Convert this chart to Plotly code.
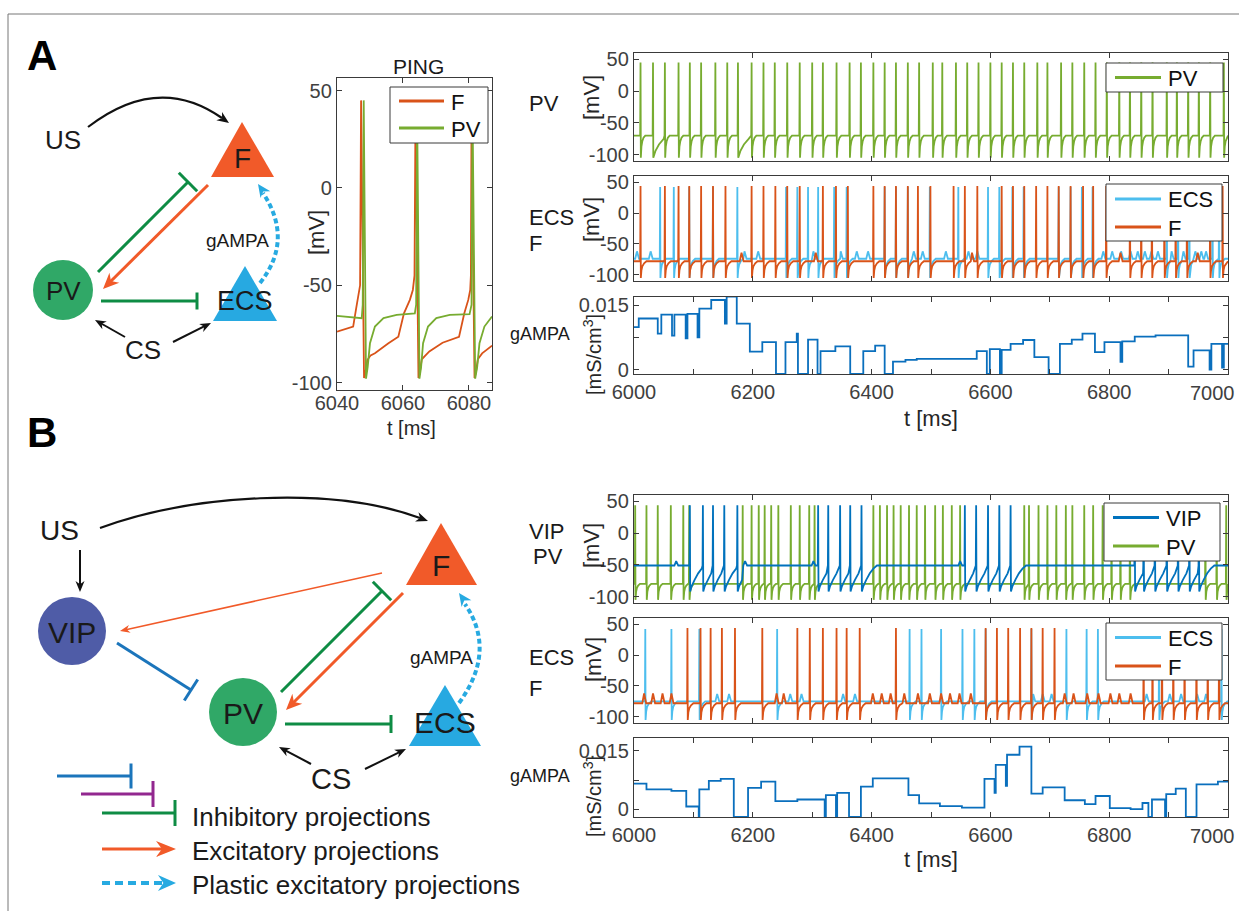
import plotly.graph_objects as go

W, H = 1239, 911
FONT = "Liberation Sans, Arial, sans-serif"

# ======================= DATA =======================
# --- PING inset (panel A): key points of the voltage traces ---
ping_t_f = [6040.0, 6044.9, 6045.8, 6046.5, 6047.0, 6047.3, 6047.8, 6048.2, 6048.6, 6049.2,
            6050.2, 6051.5, 6055.6, 6058.6, 6060.3, 6062.1, 6063.0, 6063.5, 6063.8, 6064.3,
            6064.7, 6065.1, 6065.7, 6068.0, 6072.0, 6077.0, 6078.6, 6079.8, 6080.4, 6080.6,
            6080.8, 6081.3, 6081.7, 6082.1, 6082.7, 6084.0, 6087.0]
ping_v_f = [-73.8, -71.2, -62.0, -55.0, -50.0, 45.0, -40.0, -97.6, -95.0, -88.4,
            -86.0, -84.9, -79.8, -76.4, -64.4, -57.5, -52.4, -45.0, 38.0, -40.0,
            -97.6, -95.0, -88.0, -84.0, -79.5, -76.5, -64.4, -57.5, -52.4, -45.0,
            38.0, -40.0, -97.6, -95.0, -88.0, -85.0, -81.0]
ping_t_pv = [6040.0, 6047.5, 6047.8, 6048.1, 6048.8, 6049.3, 6050.0, 6051.5, 6054.1, 6058.1,
             6063.6, 6064.0, 6064.3, 6065.0, 6065.5, 6066.1, 6067.6, 6070.1, 6074.2, 6080.2,
             6080.8, 6081.1, 6081.9, 6082.5, 6083.2, 6084.7, 6087.0]
ping_v_pv = [-65.7, -66.9, -60.0, 45.0, -98.0, -92.0, -79.8, -71.2, -66.9, -65.2,
             -64.4, -60.0, 40.0, -98.0, -92.0, -79.8, -71.2, -66.9, -65.2, -64.8,
             -60.0, 40.0, -98.0, -92.0, -79.8, -71.2, -66.0]

# --- Panel A: spike times [ms] ---
a_pv_spikes = [6011, 6032, 6052, 6075, 6094, 6113, 6137, 6157, 6175, 6198, 6218, 6237, 6258,
               6279, 6300, 6318, 6341, 6363, 6382, 6403, 6422, 6441, 6461, 6480, 6503, 6519,
               6542, 6561, 6580, 6600, 6619, 6638, 6657, 6679, 6696, 6719, 6738, 6758, 6777,
               6796, 6817, 6835, 6854, 6873, 6897, 6914, 6933, 6951, 6970, 6993]
a_pv_slow = [6032, 6175]
a_f_spikes = [6011, 6052, 6075, 6093, 6113, 6133, 6154, 6198, 6218, 6238, 6258, 6279, 6318,
              6340, 6360, 6403, 6422, 6441, 6461, 6478, 6499, 6538, 6557, 6578, 6619, 6638,
              6657, 6677, 6696, 6715, 6735, 6756, 6773, 6795, 6835, 6854, 6872, 6893, 6912,
              6931, 6970, 6991]
a_f_bumps = [6181, 6306, 6569, 6819, 6949]
a_ecs_spikes = [6044, 6067, 6093, 6133, 6174, 6256, 6275, 6293, 6310, 6337, 6358, 6422, 6441,
                6461, 6498, 6546, 6596, 6615, 6637, 6656, 6715, 6735, 6754, 6772, 6897, 6916,
                6935, 6974, 6985]
a_ecs_bumps = [6005, 6028, 6186, 6209, 6302, 6348, 6375, 6394, 6471, 6486, 6525, 6563, 6578,
               6790, 6805, 6820, 6836, 6848, 6860, 6871, 6882, 6905, 6925, 6945, 6955, 6963]

# --- Panel A: gAMPA step trace ---
ga_a_t = [6000, 6008, 6040, 6046, 6064, 6068, 6087, 6090, 6107, 6110,
          6130, 6153, 6156, 6173, 6195, 6216, 6239, 6255, 6274, 6276,
          6293, 6309, 6314, 6339, 6364, 6386, 6406, 6422, 6436, 6457,
          6476, 6577, 6594, 6599, 6616, 6619, 6634, 6655, 6674, 6698,
          6717, 6737, 6755, 6776, 6792, 6819, 6822, 6843, 6878, 6933,
          6942, 6969, 6972, 6990, 6993]
ga_a_v = [0.0099, 0.0119, 0.0084, 0.0128, 0.0079, 0.0128, 0.0073, 0.0130, 0.0075, 0.0142,
          0.0162, 0.0107, 0.0170, 0.0107, 0.0042, 0.0064, -0.001, 0.0064, 0.0084, -0.001,
          0.0070, -0.001, 0.0043, 0.0054, -0.001, 0.0043, 0.0056, -0.001, 0.0019, 0.0023,
          0.0025, 0.0043, -0.001, 0.0048, -0.001, 0.0046, 0.0060, 0.0069, 0.0029, -0.001,
          0.0060, 0.0070, 0.0084, 0.0041, 0.0064, 0.0018, 0.0066, 0.0077, 0.0080, 0.0007,
          0.0045, 0.0000, 0.0060, 0.0005, 0.0060]

# --- Panel B: spike times [ms] ---
b_vip_spikes = [6094, 6116, 6133, 6152, 6174, 6310, 6327, 6347, 6364, 6383, 6557, 6576, 6596,
                6615, 6634, 6843, 6858, 6877, 6897, 6916, 6935, 6951]
b_vip_bumps = [6071, 6187, 6302, 6549]
b_pv_spikes = [6002, 6021, 6040, 6062, 6083, 6093, 6183, 6198, 6210, 6220, 6231, 6243, 6264,
               6279, 6295, 6304, 6403, 6414, 6426, 6437, 6449, 6463, 6476, 6490, 6507, 6520,
               6535, 6549, 6657, 6665, 6681, 6696, 6711, 6727, 6738, 6758, 6773, 6789, 6804,
               6819, 6835, 6962, 6981, 6997]
b_ecs_spikes = [6019, 6063, 6110, 6241, 6464, 6484, 6517, 6553, 6573, 6592, 6669, 6728, 6762,
                6781, 6884, 6989]
b_ecs_bumps = [6140, 6160, 6263, 6282, 6352, 6372, 6672, 6688, 6703, 6863, 6902, 6921, 6948,
               6963]
b_f_spikes = [6090, 6112, 6129, 6148, 6170, 6216, 6275, 6296, 6318, 6341, 6358, 6380, 6441,
              6592, 6611, 6630, 6650, 6669, 6688, 6708, 6858, 6873, 6889, 6908, 6927, 6947,
              6966, 6985]
b_f_bumps = [6017, 6032, 6048, 6063, 6240, 6252, 6402, 6417, 6432, 6455, 6478, 6498, 6517,
             6532, 6548, 6567, 6725, 6740, 6763, 6782, 6802, 6817, 6836]

# --- Panel B: gAMPA step trace ---
ga_b_t = [6000, 6021, 6063, 6088, 6109, 6110, 6126, 6146, 6168, 6192,
          6214, 6238, 6275, 6321, 6323, 6340, 6342, 6362, 6382, 6402,
          6462, 6480, 6515, 6552, 6590, 6607, 6609, 6626, 6628, 6649,
          6669, 6688, 6725, 6759, 6777, 6801, 6836, 6856, 6866, 6872,
          6894, 6896, 6912, 6929, 6947, 6983]
ga_b_v = [0.0066, 0.0051, 0.0047, 0.0007, -0.002, 0.0051, 0.0073, 0.0078, -0.002, 0.0055,
          0.0071, 0.0021, 0.0025, -0.002, 0.0036, -0.002, 0.0042, -0.002, 0.0058, 0.0079,
          0.0036, 0.0015, 0.0008, 0.0004, 0.0078, 0.0042, 0.0114, 0.0060, 0.0140, 0.0161,
          0.0040, 0.0056, 0.0023, 0.0013, 0.0034, 0.0003, 0.0000, 0.0016, -0.002, 0.0025,
          -0.002, 0.0039, 0.0053, -0.002, 0.0064, 0.0071]

# --- tick labels ---
v_tick_vals = [-100, -50, 0, 50]
v_tick_text = ["-100", "-50", "0", "50"]
t_tick_vals = [6000, 6100, 6200, 6300, 6400, 6500, 6600, 6700, 6800, 6900, 7000]
t_tick_text = ["6000", "", "6200", "", "6400", "", "6600", "", "6800", "", ""]
ping_tick_vals = [6040, 6060, 6080]
ping_tick_text = ["6040", "6060", "6080"]
g_tick_vals = [0, 0.0075, 0.015]
g_tick_text = ["0", "", "0.015"]

# ======================= STYLE =======================
C_PV, C_F, C_ECS, C_VIP, C_G = "#77ac30", "#d95319", "#4dbeee", "#0072bd", "#0a6fbd"
AXC, TICKC = "#3a3a3a", "#404040"
SC_F, SC_PV, SC_ECS, SC_VIP = "#f15a29", "#30a867", "#27a9e1", "#4f5ca7"
INH_G, INH_B, INH_P, EXC, PLAST = "#0e8c44", "#1b75bb", "#92278f", "#f15a29", "#27aae1"

# spike waveform templates (offset after spike [ms], fraction of trough depth)
REC_FAST = ([0.5, 1.5, 3.0, 5.0, 8.0], [1.0, 0.5, 0.25, 0.1, 0.0])
REC_SLOW = ([0.5, 4.0, 10.0, 18.0, 28.0], [1.0, 0.7, 0.4, 0.15, 0.0])
REC_EXC = ([0.5, 1.5, 3.0, 6.0, 10.0], [1.0, 0.55, 0.3, 0.12, 0.0])
REC_VIP = ([0.6, 3.0, 8.0, 14.0, 20.0, 26.0], [1.0, 0.8, 0.55, 0.3, 0.12, 0.0])


def build_train(spikes, base, peak, trough, rec, bumps=(), bump_amp=10.0,
                slow=(), slow_rec=None, t0=6000.0, t1=7000.0):
    ev = sorted([(float(s), 0) for s in spikes] + [(float(b), 1) for b in bumps])
    ts, vs = [t0], [base]

    def add(t, v, limit):
        if ts[-1] < t < limit:
            ts.append(t)
            vs.append(v)

    for i, (s, kind) in enumerate(ev):
        nxt = ev[i + 1][0] - 0.8 if i + 1 < len(ev) else t1
        if kind == 0:
            dts, frs = slow_rec if (slow_rec and s in slow) else rec
            add(s - 0.6, base, t1)
            add(s, peak, t1)
            for dt, fr in zip(dts, frs):
                add(s + dt, base + fr * (trough - base), nxt)
        else:
            add(s - 3.0, base, nxt)
            add(s, base + bump_amp, nxt)
            add(s + 3.5, base, nxt)
    ts.append(t1)
    vs.append(base)
    return ts, vs


def X(x):
    return x / W


def Y(y):
    return 1.0 - y / H


# ======================= AXES =======================
VR = [-110, 60]
panels = {
    "ping": dict(n=1, x=(337, 492), y=(78, 390), yr=[-103.8, 56.5], xr=[6040, 6087]),
    "a1": dict(n=2, x=(634, 1228), y=(53, 161), yr=VR, xr=[6000, 7000]),
    "a2": dict(n=3, x=(634, 1228), y=(176, 281), yr=VR, xr=[6000, 7000]),
    "a3": dict(n=4, x=(634, 1228), y=(297, 374), yr=[-0.001, 0.0169], xr=[6000, 7000]),
    "b1": dict(n=5, x=(634, 1228), y=(495, 603), yr=VR, xr=[6000, 7000]),
    "b2": dict(n=6, x=(634, 1228), y=(618, 723), yr=VR, xr=[6000, 7000]),
    "b3": dict(n=7, x=(634, 1228), y=(738, 817), yr=[-0.002, 0.0183], xr=[6000, 7000]),
}

layout = dict(width=W, height=H,
              margin=dict(l=0, r=0, t=0, b=0, pad=0, autoexpand=False),
              paper_bgcolor="white", plot_bgcolor="white", showlegend=False)


def base_axis():
    return dict(showline=True, linecolor=AXC, linewidth=1.4, mirror="ticks", ticks="inside",
                ticklen=5, tickwidth=1.2, tickcolor=AXC, showgrid=False, zeroline=False,
                fixedrange=True, automargin=False,
                tickfont=dict(family=FONT, size=20, color=TICKC))


for key, p in panels.items():
    n = p["n"]
    xs = "" if n == 1 else str(n)
    xa = base_axis()
    ya = base_axis()
    xa.update(domain=[X(p["x"][0]), X(p["x"][1])], range=p["xr"], anchor="y" + xs,
              ticklabelstandoff=-5 if key == "ping" else 0)
    ya.update(domain=[Y(p["y"][1]), Y(p["y"][0])], range=p["yr"], anchor="x" + xs)
    if key == "ping":
        xa.update(tickvals=ping_tick_vals, ticktext=ping_tick_text)
        ya.update(tickvals=v_tick_vals, ticktext=v_tick_text)
    elif key in ("a3", "b3"):
        xa.update(tickvals=t_tick_vals, ticktext=t_tick_text)
        ya.update(tickvals=g_tick_vals, ticktext=g_tick_text)
    else:
        xa.update(tickvals=t_tick_vals[::2], showticklabels=False)
        ya.update(tickvals=v_tick_vals, ticktext=v_tick_text)
    layout["xaxis" + xs] = xa
    layout["yaxis" + xs] = ya

# ======================= TRACES =======================
fig = go.Figure()


def add_line(ts, vs, color, n, name, shape="linear"):
    xs = "" if n == 1 else str(n)
    fig.add_trace(go.Scatter(
        x=ts, y=vs, mode="lines", line=dict(color=color, width=1.8, shape=shape),
        xaxis="x" + xs, yaxis="y" + xs, name=name, showlegend=False, hoverinfo="skip"))


# PING
add_line(ping_t_f, ping_v_f, C_F, 1, "F")
add_line(ping_t_pv, ping_v_pv, C_PV, 1, "PV")

# A1: PV
t, v = build_train(a_pv_spikes, -70, 45, -105, REC_FAST, slow=a_pv_slow, slow_rec=REC_SLOW)
add_line(t, v, C_PV, 2, "PV")

# A2: ECS, F
t, v = build_train(a_ecs_spikes, -74, 42, -105, REC_EXC, bumps=a_ecs_bumps, bump_amp=12)
add_line(t, v, C_ECS, 3, "ECS")
t, v = build_train(a_f_spikes, -78, 44, -105, REC_EXC, bumps=a_f_bumps, bump_amp=14)
add_line(t, v, C_F, 3, "F")

# A3: gAMPA
add_line(ga_a_t + [7000], ga_a_v + [ga_a_v[-1]], C_G, 4, "gAMPA", shape="hv")

# B1: PV, VIP
t, v = build_train(b_pv_spikes, -80, 44, -105, REC_FAST)
add_line(t, v, C_PV, 5, "PV")
t, v = build_train(b_vip_spikes, -51, 44, -92, REC_VIP, bumps=b_vip_bumps, bump_amp=7)
add_line(t, v, C_VIP, 5, "VIP")

# B2: ECS, F
t, v = build_train(b_ecs_spikes, -75, 42, -105, REC_EXC, bumps=b_ecs_bumps, bump_amp=12)
add_line(t, v, C_ECS, 6, "ECS")
t, v = build_train(b_f_spikes, -78, 44, -105, REC_EXC, bumps=b_f_bumps, bump_amp=16)
add_line(t, v, C_F, 6, "F")

# B3: gAMPA
add_line(ga_b_t + [7000], ga_b_v + [ga_b_v[-1]], C_G, 7, "gAMPA", shape="hv")

# ======================= SCHEMATICS & TEXT =======================
shapes, annots = [], []


def seg(x0, y0, x1, y1, color, width, dash="solid"):
    shapes.append(dict(type="line", xref="paper", yref="paper", x0=X(x0), y0=Y(y0),
                       x1=X(x1), y1=Y(y1), line=dict(color=color, width=width, dash=dash)))


def rect(x0, y0, x1, y1, fill, border, width=1):
    shapes.append(dict(type="rect", xref="paper", yref="paper", x0=X(x0), y0=Y(y1),
                       x1=X(x1), y1=Y(y0), fillcolor=fill, line=dict(color=border, width=width)))


def poly(pts, color):
    d = "M " + " L ".join(f"{X(x):.5f},{Y(y):.5f}" for x, y in pts) + " Z"
    shapes.append(dict(type="path", xref="paper", yref="paper", path=d, fillcolor=color,
                       line=dict(width=0)))


def disk(cx, cy, r, color):
    shapes.append(dict(type="circle", xref="paper", yref="paper", x0=X(cx - r), x1=X(cx + r),
                       y0=Y(cy + r), y1=Y(cy - r), fillcolor=color, line=dict(width=0)))


def unit(dx, dy):
    n = (dx * dx + dy * dy) ** 0.5
    return dx / n, dy / n


def head(tx, ty, dx, dy, color, L=14, hw=6, notch=0.3):
    ux, uy = unit(dx, dy)
    px, py = -uy, ux
    bx, by = tx - ux * L, ty - uy * L
    nx, ny = tx - ux * L * (1 - notch), ty - uy * L * (1 - notch)
    poly([(tx, ty), (bx + px * hw, by + py * hw), (nx, ny), (bx - px * hw, by - py * hw)], color)


def arrow(x0, y0, x1, y1, color, width, L=14, hw=6):
    ux, uy = unit(x1 - x0, y1 - y0)
    seg(x0, y0, x1 - ux * L * 0.6, y1 - uy * L * 0.6, color, width)
    head(x1, y1, x1 - x0, y1 - y0, color, L, hw)


def tee(x0, y0, x1, y1, color, width, bar):
    ux, uy = unit(x1 - x0, y1 - y0)
    px, py = -uy, ux
    seg(x0, y0, x1, y1, color, width)
    seg(x1 + px * bar / 2, y1 + py * bar / 2, x1 - px * bar / 2, y1 - py * bar / 2, color, width)


def qcurve(p0, q, p2, color, width, dash="solid"):
    d = (f"M {X(p0[0]):.5f},{Y(p0[1]):.5f} Q {X(q[0]):.5f},{Y(q[1]):.5f} "
         f"{X(p2[0]):.5f},{Y(p2[1]):.5f}")
    shapes.append(dict(type="path", xref="paper", yref="paper", path=d,
                       line=dict(color=color, width=width, dash=dash)))


def ccurve(p0, p1, p2, p3, color, width):
    d = (f"M {X(p0[0]):.5f},{Y(p0[1]):.5f} C {X(p1[0]):.5f},{Y(p1[1]):.5f} "
         f"{X(p2[0]):.5f},{Y(p2[1]):.5f} {X(p3[0]):.5f},{Y(p3[1]):.5f}")
    shapes.append(dict(type="path", xref="paper", yref="paper", path=d,
                       line=dict(color=color, width=width)))


def label(x, y, s, size, color="#1a1a1a", xanchor="center", bold=False, angle=0):
    annots.append(dict(xref="paper", yref="paper", x=X(x), y=Y(y),
                       text=f"<b>{s}</b>" if bold else s, showarrow=False,
                       xanchor=xanchor, yanchor="middle", textangle=angle,
                       font=dict(family=FONT, size=size, color=color)))


def key_box(x0, y0, x1, y1, items, line_len=46, size=22):
    # boxed key in the top-right corner of a plot: items = [(name, colour, row_y)]
    rect(x0, y0, x1, y1, "white", AXC, 1)
    for name, color, ry in items:
        seg(x0 + 9, ry, x0 + 9 + line_len, ry, color, 3.2)
        label(x0 + 14 + line_len, ry + 1, name, size, color="#111111", xanchor="left")


# frame
seg(8, 14, 8, 911, "#777777", 1)
seg(8, 14, 1239, 14, "#777777", 1)

# ---- keys of the trace plots ----
key_box(390, 87, 488, 143, [("F", C_F, 101), ("PV", C_PV, 128)], line_len=45)
key_box(1106, 63, 1223, 92, [("PV", C_PV, 77.5)])
key_box(1106, 184, 1222, 241, [("ECS", C_ECS, 199), ("F", C_F, 227)])
key_box(1104, 503, 1220, 561, [("VIP", C_VIP, 517.5), ("PV", C_PV, 546)])
key_box(1106, 623, 1222, 680, [("ECS", C_ECS, 637.5), ("F", C_F, 666)])

# ---- Schematic A ----
label(42, 55, "A", 42, color="black", bold=True)
label(63, 140, "US", 26)
qcurve((88, 127), (158, 73), (222, 118), "#111111", 2.2)
head(229, 123, 66, 46, "#111111", 12, 5)
poly([(242, 122), (211, 177), (274, 177)], SC_F)
label(242, 158, "F", 28)
disk(63, 290, 30, SC_PV)
label(63, 291, "PV", 26)
poly([(245, 266), (213, 321), (277, 321)], SC_ECS)
tee(98, 272, 188, 182, INH_G, 3, 26)
arrow(208, 185, 103, 289, EXC, 3, 16, 7)
tee(101, 301, 197, 301, INH_G, 3, 17)
label(245, 301, "ECS", 27)
label(143, 350, "CS", 26)
arrow(125, 337, 95, 320, "#111111", 2, 11, 4.5)
arrow(173, 342, 211, 323, "#111111", 2, 11, 4.5)
label(237, 241, "gAMPA", 19)
qcurve((260, 283), (294, 240), (263, 193), PLAST, 4, "5px,3px")
head(258, 184, -30, -43, PLAST, 13, 6)

# ---- Schematic B ----
label(42, 432, "B", 42, color="black", bold=True)
label(59, 530, "US", 28)
ccurve((100, 528), (190, 495), (330, 485), (420, 518), "#111111", 2.2)
head(428, 521, 96, 35, "#111111", 12, 5)
arrow(80, 550, 80, 592, "#111111", 2, 11, 4.5)
disk(72, 631, 34, SC_VIP)
label(72, 632, "VIP", 30)
poly([(441, 523), (406, 585), (477, 585)], SC_F)
label(441, 565, "F", 30)
poly([(445, 685), (409, 746), (481, 746)], SC_ECS)
disk(243, 712, 34, SC_PV)
label(243, 713, "PV", 30)
arrow(382, 573, 120, 631, EXC, 1.5, 10, 4)
tee(117, 643, 191, 690, INH_B, 3, 25)
tee(281, 692, 382, 591, INH_G, 3, 26)
arrow(403, 593, 286, 710, EXC, 3, 16, 7)
tee(285, 724, 391, 724, INH_G, 3, 18)
label(445, 722, "ECS", 30)
label(331, 779, "CS", 29)
arrow(311, 764, 279, 747, "#111111", 2, 11, 4.5)
arrow(365, 769, 406, 749, "#111111", 2, 11, 4.5)
label(441, 657, "gAMPA", 19)
qcurve((459, 703), (497, 651), (465, 604), PLAST, 4, "5px,3px")
head(459, 593, -31, -44, PLAST, 13, 6)

# legend of projections
tee(57, 776, 131, 776, INH_B, 3, 25)
tee(81, 794, 153, 794, INH_P, 3, 26)
tee(102, 813, 175, 813, INH_G, 3, 26)
label(190, 817, "Inhibitory projections", 26, xanchor="left")
arrow(102, 849, 176, 849, EXC, 3, 20, 8)
label(190, 851, "Excitatory projections", 26, xanchor="left")
seg(102, 883, 162, 883, PLAST, 4, "8px,5px")
head(176, 883, 1, 0, PLAST, 18, 8)
label(190, 885, "Plastic excitatory projections", 26, xanchor="left")

# ---- Plot labels ----
label(418, 67, "PING", 21)
label(317, 233, "[mV]", 22, color="#262626", angle=-90)
label(412, 428, "t [ms]", 20, color="#262626")

label(527, 103, "PV", 22, xanchor="left")
label(591, 98, "[mV]", 22, color="#262626", angle=-90)
label(527, 217, "ECS", 22, xanchor="left")
label(527, 244, "F", 22, xanchor="left")
label(591, 220, "[mV]", 22, color="#262626", angle=-90)
label(572, 334, "gAMPA", 18, xanchor="right")
label(592, 355, "[mS/cm<sup>3</sup>]", 20, color="#262626", angle=-90)
label(1237, 393, "7000", 20, color=TICKC, xanchor="right")
label(931, 419, "t [ms]", 22, color="#262626")

label(527, 531, "VIP", 22, xanchor="left")
label(531, 556, "PV", 22, xanchor="left")
label(591, 546, "[mV]", 22, color="#262626", angle=-90)
label(527, 657, "ECS", 22, xanchor="left")
label(527, 688, "F", 22, xanchor="left")
label(593, 660, "[mV]", 22, color="#262626", angle=-90)
label(572, 776, "gAMPA", 18, xanchor="right")
label(592, 797, "[mS/cm<sup>3</sup>]", 20, color="#262626", angle=-90)
label(1237, 836, "7000", 20, color=TICKC, xanchor="right")
label(931, 859, "t [ms]", 22, color="#262626")

layout["shapes"] = shapes
layout["annotations"] = annots
fig.update_layout(**layout)
fig.write_html("out.html")
